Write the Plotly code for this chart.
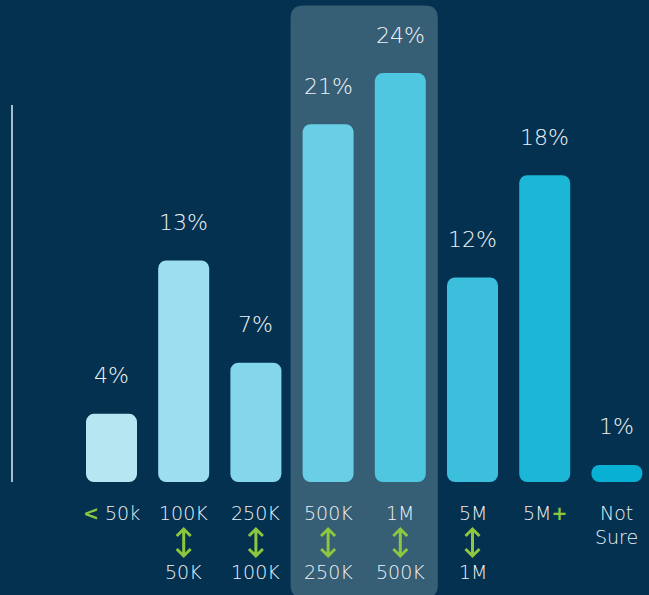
import plotly.graph_objects as go

# Survey answers: share of respondents per range
labels_top = ["50k", "100K", "250K", "500K", "1M", "5M", "5M", "Not"]
labels_bottom = ["", "50K", "100K", "250K", "500K", "1M", "", "Sure"]
values = [4, 13, 7, 21, 24, 12, 18, 1]
bar_colors = ["#b5e6f2", "#9ddff0", "#84d6eb", "#68cfe6", "#4fc7e1",
              "#3bbfdc", "#1cb6d7", "#08b0d3"]
range_arrows = [False, True, True, True, True, True, False, False]
highlighted = [3, 4]

BG = "#03314f"
TEXT = "#eef3f6"
GREEN = "#8dc63f"
FONT = "DejaVu Sans"

W, H = 649, 595
ML, MR, MT, MB = 75, 0, 0, 113
PX_PER_CAT = 72.2
PX_PER_PCT = 17.04
plot_w = W - ML - MR
plot_h = H - MT - MB
x0 = -(111.5 - ML) / PX_PER_CAT
x_range = [x0, x0 + plot_w / PX_PER_CAT]
y_range = [0, plot_h / PX_PER_PCT]
bar_w = 51 / PX_PER_CAT
radius = 8

def py_to_paper(py):
    return (MT + plot_h - py) / plot_h

xs = list(range(len(values)))

fig = go.Figure()
# an explicit base gives rounded corners at both ends of each bar
fig.add_trace(go.Bar(
    x=xs, y=values, base=[0] * len(values),
    width=bar_w, marker=dict(color=bar_colors, line_width=0),
    hoverinfo="skip", showlegend=False))

shapes = []
# highlight panel behind the middle ranges
cx = (highlighted[0] + highlighted[1]) / 2
hx = 1.02
rx, ry = 13 / PX_PER_CAT, 13 / plot_h
xa, xb = cx - hx, cx + hx
ya, yb = py_to_paper(598), py_to_paper(5.5)
path = (f"M {xa + rx},{yb} L {xb - rx},{yb} Q {xb},{yb} {xb},{yb - ry} "
        f"L {xb},{ya + ry} Q {xb},{ya} {xb - rx},{ya} L {xa + rx},{ya} "
        f"Q {xa},{ya} {xa},{ya + ry} L {xa},{yb - ry} Q {xa},{yb} {xa + rx},{yb} Z")
shapes.append(dict(type="path", path=path, xref="x", yref="paper",
                   fillcolor="#365e75", line_width=0, layer="below"))

# vertical rule on the left
shapes.append(dict(type="line", xref="paper", yref="paper",
                   x0=(12 - ML) / plot_w, x1=(12 - ML) / plot_w,
                   y0=0, y1=py_to_paper(105),
                   line=dict(color="#a9bccb", width=2)))

# green double-headed arrows between range bounds
ax_w = 7 / PX_PER_CAT
a_top, a_bot, a_head = 529, 556, 7
for i, on in enumerate(range_arrows):
    if not on:
        continue
    yt, ybt = py_to_paper(a_top), py_to_paper(a_bot)
    yh1, yh2 = py_to_paper(a_top + a_head), py_to_paper(a_bot - a_head)
    p = (f"M {i},{yt} L {i},{ybt} "
         f"M {i - ax_w},{yh1} L {i},{yt} L {i + ax_w},{yh1} "
         f"M {i - ax_w},{yh2} L {i},{ybt} L {i + ax_w},{yh2}")
    shapes.append(dict(type="path", path=p, xref="x", yref="paper",
                       line=dict(color=GREEN, width=3)))

annotations = []
for i, v in enumerate(values):
    annotations.append(dict(
        x=i, y=v, xref="x", yref="y", text=f"{v}%", showarrow=False,
        yanchor="middle", yshift=38,
        font=dict(family=FONT, size=22, color=TEXT, weight=300)))

top_text = list(labels_top)
top_text[0] = f'<span style="color:{GREEN}"><b>&lt;</b></span> ' + labels_top[0]
top_text[6] = labels_top[6] + f'<span style="color:{GREEN}"><b>+</b></span>'
for i, t in enumerate(top_text):
    annotations.append(dict(
        x=i, y=py_to_paper(513), xref="x", yref="paper", text=t,
        showarrow=False, yanchor="middle",
        font=dict(family=FONT, size=19, color=TEXT, weight=300)))
for i, t in enumerate(labels_bottom):
    if not t:
        continue
    py = 537 if not range_arrows[i] else 572
    annotations.append(dict(
        x=i, y=py_to_paper(py), xref="x", yref="paper", text=t,
        showarrow=False, yanchor="middle",
        font=dict(family=FONT, size=19, color=TEXT, weight=300)))

fig.update_layout(
    width=W, height=H,
    margin=dict(l=ML, r=MR, t=MT, b=MB, pad=0),
    paper_bgcolor=BG, plot_bgcolor="rgba(0,0,0,0)",
    barcornerradius=radius,
    xaxis=dict(range=x_range, visible=False, fixedrange=True),
    yaxis=dict(range=y_range, visible=False, fixedrange=True),
    shapes=shapes, annotations=annotations,
    showlegend=False,
)

fig.write_html("out.html", config={"displayModeBar": False})
